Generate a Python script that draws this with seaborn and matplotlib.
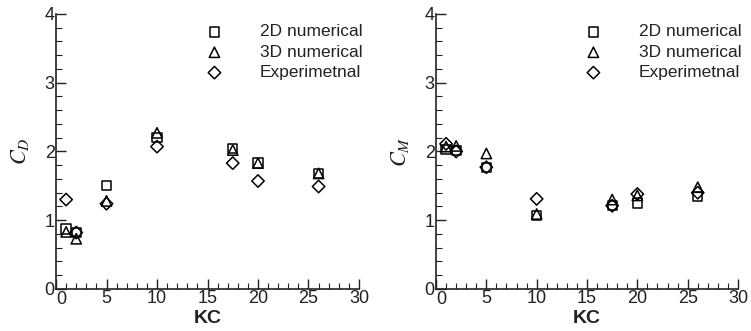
import matplotlib
matplotlib.use("Agg")
import matplotlib.pyplot as plt
import seaborn as sns
import pandas as pd
from matplotlib.ticker import MultipleLocator, FuncFormatter

KC = [1, 2, 5, 10, 17.5, 20, 26]
series_names = ["2D numerical", "3D numerical", "Experimetnal"]
CD_2D = [0.87, 0.82, 1.50, 2.20, 2.04, 1.83, 1.68]
CD_3D = [0.83, 0.73, 1.28, 2.27, 2.02, 1.83, 1.68]
CD_EXP = [1.30, 0.82, 1.24, 2.07, 1.83, 1.57, 1.49]
CM_2D = [2.03, 2.01, 1.77, 1.07, 1.21, 1.25, 1.34]
CM_3D = [2.07, 2.08, 1.97, 1.09, 1.30, 1.36, 1.48]
CM_EXP = [2.11, 2.00, 1.77, 1.31, 1.21, 1.38, 1.40]

sns.set_theme(style="ticks")
plt.rcParams['font.family'] = ['Liberation Sans', 'DejaVu Sans']
plt.rcParams['mathtext.fontset'] = 'stix'

markers = {"2D numerical": "s", "3D numerical": "^", "Experimetnal": "D"}
sizes = {"2D numerical": 45, "3D numerical": 55, "Experimetnal": 40}

def make_df(a, b, c):
    rows = []
    for name, vals in zip(series_names, [a, b, c]):
        for k, v in zip(KC, vals):
            rows.append({"KC": k, "val": v, "series": name})
    return pd.DataFrame(rows)

fig = plt.figure(figsize=(7.51, 3.31), dpi=100)
ax1 = fig.add_axes([0.0746, 0.127, 0.4034, 0.831])
ax2 = fig.add_axes([0.5806, 0.127, 0.4021, 0.831])

for ax, df, ylab in [(ax1, make_df(CD_2D, CD_3D, CD_EXP), r"$C_D$"),
                     (ax2, make_df(CM_2D, CM_3D, CM_EXP), r"$C_M$")]:
    for name in series_names:
        sub = df[df["series"] == name]
        sns.scatterplot(data=sub, x="KC", y="val", ax=ax, marker=markers[name],
                        s=sizes[name], facecolors="none", edgecolor="black",
                        linewidth=1.1, label=name, legend=False)
    ax.set_xlim(0, 30)
    ax.set_ylim(0, 4)
    ax.xaxis.set_major_locator(MultipleLocator(5))
    ax.xaxis.set_minor_locator(MultipleLocator(1))
    ax.yaxis.set_major_locator(MultipleLocator(1))
    ax.yaxis.set_minor_locator(MultipleLocator(0.2))
    ax.xaxis.set_major_formatter(FuncFormatter(lambda v, p: "" if abs(v) < 1e-9 else f"{v:g}"))
    ax.tick_params(which="both", direction="in", color="#222222", labelsize=13,
                   labelcolor="#222222", pad=1)
    ax.tick_params(which="major", length=7, width=1)
    ax.tick_params(which="minor", length=4, width=0.8)
    for sp in ["top", "right"]:
        ax.spines[sp].set_visible(False)
    for sp in ["left", "bottom"]:
        ax.spines[sp].set_linewidth(1.2)
        ax.spines[sp].set_color("#222222")
    ax.annotate("0", xy=(0, 0), xycoords="axes fraction", xytext=(0.5, -1.5),
                textcoords="offset points", ha="left", va="top", fontsize=13,
                color="#222222")
    ax.set_xlabel("KC", fontsize=14, fontweight="bold", labelpad=2, color="#222222")
    ax.set_ylabel(ylab, fontsize=16, labelpad=10, color="#222222")
    handles, labels = ax.get_legend_handles_labels()
    leg = ax.legend(handles, labels, loc="upper right", bbox_to_anchor=(1.045, 1.0),
                    frameon=False, fontsize=12.5, handletextpad=1.6,
                    labelspacing=0.3, borderaxespad=0.2)
    for t in leg.get_texts():
        t.set_color("#222222")

fig.savefig("out.png", dpi=100)
